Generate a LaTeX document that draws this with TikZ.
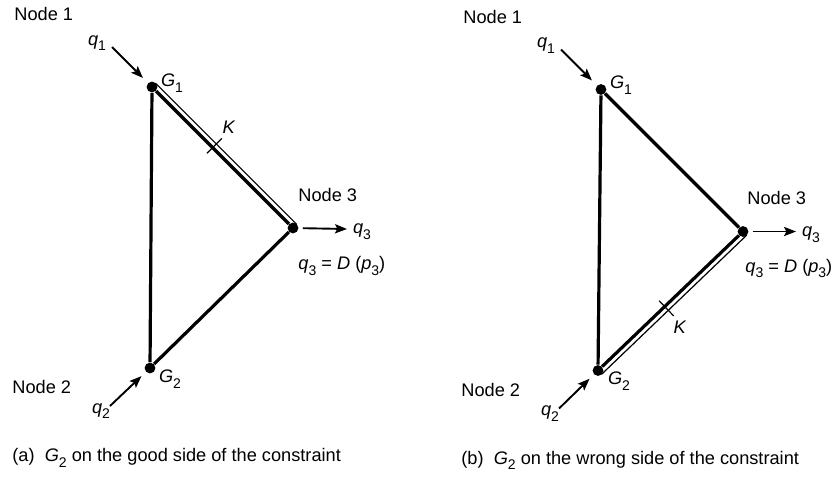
\documentclass[tikz,border=0pt]{standalone}
\usepackage{fontspec}
\setmainfont{Liberation Sans}
\usetikzlibrary{arrows.meta,positioning,calc}
\newcommand\lowsub[1]{\raisebox{-0.6ex}{\scriptsize #1}}
\newcommand\vq[1]{\textit{q}\lowsub{#1}}
\newcommand\vG[1]{\textit{G}\lowsub{#1}}

\begin{document}
\begin{tikzpicture}[x=0.5pt,y=-0.5pt,font=\fontsize{9.1}{10}\selectfont,
  dot/.style={circle,fill,inner sep=0pt,minimum size=5.4pt},
  pipe/.style={line width=1.6pt},
  wall/.style={line width=0.6pt},
  flow/.style={line width=0.95pt,-{Stealth[length=6pt,width=4.6pt,inset=1.2pt]}},
  lbl/.style={inner sep=0pt}]
\useasboundingbox (0,0) rectangle (833,478);
% (a) constraint on the G1 - Node 3 line
\begin{scope}
\node[dot] (g1) at (152,87) {};
\node[dot] (n3) at (293,228) {};
\node[dot] (g2) at (150,368) {};
\draw[pipe] (g1) -- (g2);
\draw[pipe] (g2) -- (n3);
\draw[pipe] (g1) -- (n3);
\draw[wall] ($(g1)!2.6pt!90:(n3)$) -- ($(n3)!2.6pt!-90:(g1)$);
\coordinate (ka) at ($(g1)!0.43!(n3)$);
\draw[wall] ($(ka)!4pt!-90:(n3)$) -- ($(ka)!6.5pt!90:(n3)$);
\node[lbl] (kl) at (229,127) {\textit{K}};
\coordinate (q1s) at (112,47);
\coordinate (q2s) at (110,406);
\coordinate (q3e) at (347,229);
\draw[flow,shorten >=3.5pt] (q1s) -- (g1);
\draw[flow,shorten >=3pt] (q2s) -- (g2);
\draw[flow,shorten <=2pt] (n3) -- (q3e);
\node[lbl,anchor=west] (l1) at (14,14) {Node 1};
\node[lbl,anchor=west] (l2) at (12,387) {Node 2};
\node[lbl,anchor=west] (l3) at (298,195) {Node 3};
\node[lbl] (q1l) at (97,43) {\vq{1}};
\node[lbl] (q2l) at (101,411) {\vq{2}};
\node[lbl] (q3l) at (362,232) {\vq{3}};
\node[lbl] (g1l) at (172,83) {\vG{1}};
\node[lbl] (g2l) at (170,379) {\vG{2}};
\node[lbl,anchor=west] (dl) at (298,266) {\vq{3} = \textit{D} (\textit{p}\lowsub{3})};
\node[lbl,anchor=west] (cap) at (12,458) {(a)\ \ \vG{2} on the good side of the constraint};
\end{scope}
% (b) constraint on the G2 - Node 3 line
\begin{scope}[shift={(449,2.5)}]
\node[dot] (g1) at (152,87) {};
\node[dot] (n3) at (294,229) {};
\node[dot] (g2) at (149,368) {};
\draw[pipe] (g1) -- (g2);
\draw[pipe] (g2) -- (n3);
\draw[pipe] (g1) -- (n3);
\draw[wall] ($(g2)!2.6pt!-90:(n3)$) -- ($(n3)!2.6pt!90:(g2)$);
\coordinate (ka) at ($(g2)!0.46!(n3)$);
\draw[wall] ($(ka)!4pt!90:(n3)$) -- ($(ka)!6.5pt!-90:(n3)$);
\node[lbl] (kl) at (231,325) {\textit{K}};
\coordinate (q1s) at (112,47);
\coordinate (q2s) at (110,406);
\coordinate (q3e) at (347,229);
\draw[flow,shorten >=3.5pt] (q1s) -- (g1);
\draw[flow,shorten >=3pt] (q2s) -- (g2);
\draw[flow,shorten <=2pt] (n3) -- (q3e);
\node[lbl,anchor=west] (l1) at (14,14) {Node 1};
\node[lbl,anchor=west] (l2) at (12,387) {Node 2};
\node[lbl,anchor=west] (l3) at (298,195) {Node 3};
\node[lbl] (q1l) at (97,43) {\vq{1}};
\node[lbl] (q2l) at (101,411) {\vq{2}};
\node[lbl] (q3l) at (362,232) {\vq{3}};
\node[lbl] (g1l) at (172,83) {\vG{1}};
\node[lbl] (g2l) at (170,379) {\vG{2}};
\node[lbl,anchor=west] (dl) at (296,266) {\vq{3} = \textit{D} (\textit{p}\lowsub{3})};
\node[lbl,anchor=west] (cap) at (12,458) {(b)\ \ \vG{2} on the wrong side of the constraint};
\end{scope}
\end{tikzpicture}
\end{document}
